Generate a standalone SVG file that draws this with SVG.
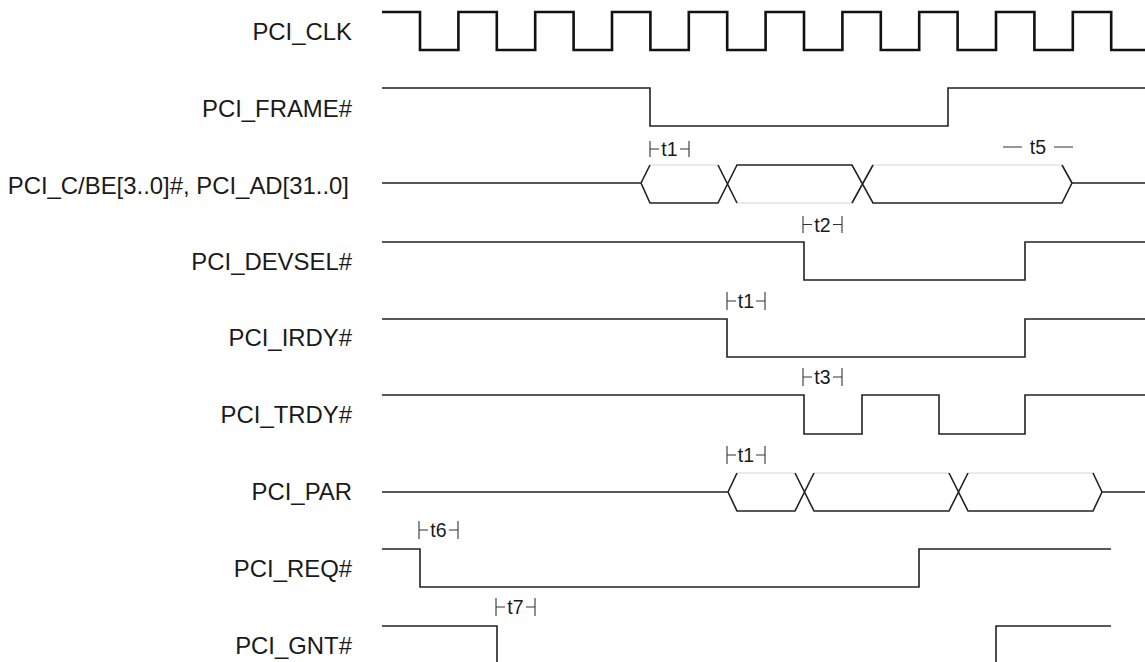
<svg xmlns="http://www.w3.org/2000/svg" width="1145" height="662" viewBox="0 0 1145 662">
<style>
.lbl{font-family:"Liberation Sans",Arial,sans-serif;font-size:23.9px;fill:#1a1a1a;text-anchor:end}
.tl{font-family:"Liberation Sans",Arial,sans-serif;font-size:19.5px;fill:#1a1a1a;text-anchor:middle}
.w{fill:none;stroke:#222;stroke-width:1.6}
.clk{fill:none;stroke:#111;stroke-width:2.6}
.f{fill:none;stroke:#e4e4e4;stroke-width:1.4}
.tk{fill:none;stroke:#333;stroke-width:1.1}
</style>
<rect width="1145" height="662" fill="#fff"/>
<g id="sig-clk">
<text class="lbl" x="352" y="40">PCI_CLK</text>
<path class="clk" d="M382,12 H420 V50 H458.4 V12 H496.8 V50 H535.2 V12 H573.6 V50 H612 V12 H650.4 V50 H688.8 V12 H727.2 V50 H765.6 V12 H804 V50 H842.4 V12 H880.8 V50 H919.2 V12 H957.6 V50 H996 V12 H1034.4 V50 H1072.8 V12 H1111.2 V50 H1145"/>
</g>
<g id="sig-frame">
<text class="lbl" x="352" y="117">PCI_FRAME#</text>
<path class="w" d="M382,88 H650 V126 H948 V88 H1145"/>
</g>
<g id="sig-ad">
<text class="lbl" x="349" y="194">PCI_C/BE[3..0]#, PCI_AD[31..0]</text>
<path class="f" d="M650,165 H718 M737,203 H852 M873,165 H1062"/>
<path class="w" d="M382,183 H641 L650,165 M641,183 L650,203 H718 L737,165 H852 L873,203 H1062 L1072,183 H1145 M718,165 L737,203 M852,203 L873,165 M1062,165 L1072,183"/>
</g>
<g id="sig-devsel">
<text class="lbl" x="352" y="270">PCI_DEVSEL#</text>
<path class="w" d="M382,242 H804 V280 H1025 V242 H1145"/>
</g>
<g id="sig-irdy">
<text class="lbl" x="352" y="346">PCI_IRDY#</text>
<path class="w" d="M382,319 H727 V357 H1025 V319 H1145"/>
</g>
<g id="sig-trdy">
<text class="lbl" x="352" y="423">PCI_TRDY#</text>
<path class="w" d="M382,395 H804 V434 H862 V395 H939 V434 H1025 V395 H1145"/>
</g>
<g id="sig-par">
<text class="lbl" x="352" y="500">PCI_PAR</text>
<path class="f" d="M737,473 H795 M814,473 H949 M968,473 H1093"/>
<path class="w" d="M382,492 H728 L737,473 M728,492 L737,511 H795 L814,473 M795,473 L814,511 H949 L968,473 M949,473 L968,511 H1093 L1102,492 H1145 M1093,473 L1102,492"/>
</g>
<g id="sig-req">
<text class="lbl" x="352" y="577">PCI_REQ#</text>
<path class="w" d="M382,549 H420 V587 H919 V549 H1111"/>
</g>
<g id="sig-gnt">
<text class="lbl" x="352" y="654">PCI_GNT#</text>
<path class="w" d="M382,626 H497 V662 M996,662 V626 H1111"/>
</g>
<g id="connectors">
<g id="t1a">
<path class="tk" d="M650,141 V157 M650,149 H659 M680,149 H689 M689,141 V157"/>
<text class="tl" x="669.5" y="156">t1</text>
</g>
<g id="t5">
<path class="tk" d="M1003,147 H1022 M1054,147 H1073"/>
<text class="tl" x="1038" y="154">t5</text>
</g>
<g id="t2">
<path class="tk" d="M803,216 V233 M803,224.5 H812 M833,224.5 H842 M842,216 V233"/>
<text class="tl" x="822.5" y="231.5">t2</text>
</g>
<g id="t1b">
<path class="tk" d="M727,292 V310 M727,301 H736 M756,301 H765 M765,292 V310"/>
<text class="tl" x="746" y="308">t1</text>
</g>
<g id="t3">
<path class="tk" d="M803,368 V386 M803,377 H812 M833,377 H842 M842,368 V386"/>
<text class="tl" x="822.5" y="384">t3</text>
</g>
<g id="t1c">
<path class="tk" d="M727,446 V464 M727,455 H736 M756,455 H765 M765,446 V464"/>
<text class="tl" x="746" y="462">t1</text>
</g>
<g id="t6">
<path class="tk" d="M419,521 V539 M419,530 H428 M449,530 H458 M458,521 V539"/>
<text class="tl" x="438.5" y="537">t6</text>
</g>
<g id="t7">
<path class="tk" d="M496,598 V616 M496,607 H505 M526,607 H535 M535,598 V616"/>
<text class="tl" x="515.5" y="614">t7</text>
</g>
</g>
</svg>
